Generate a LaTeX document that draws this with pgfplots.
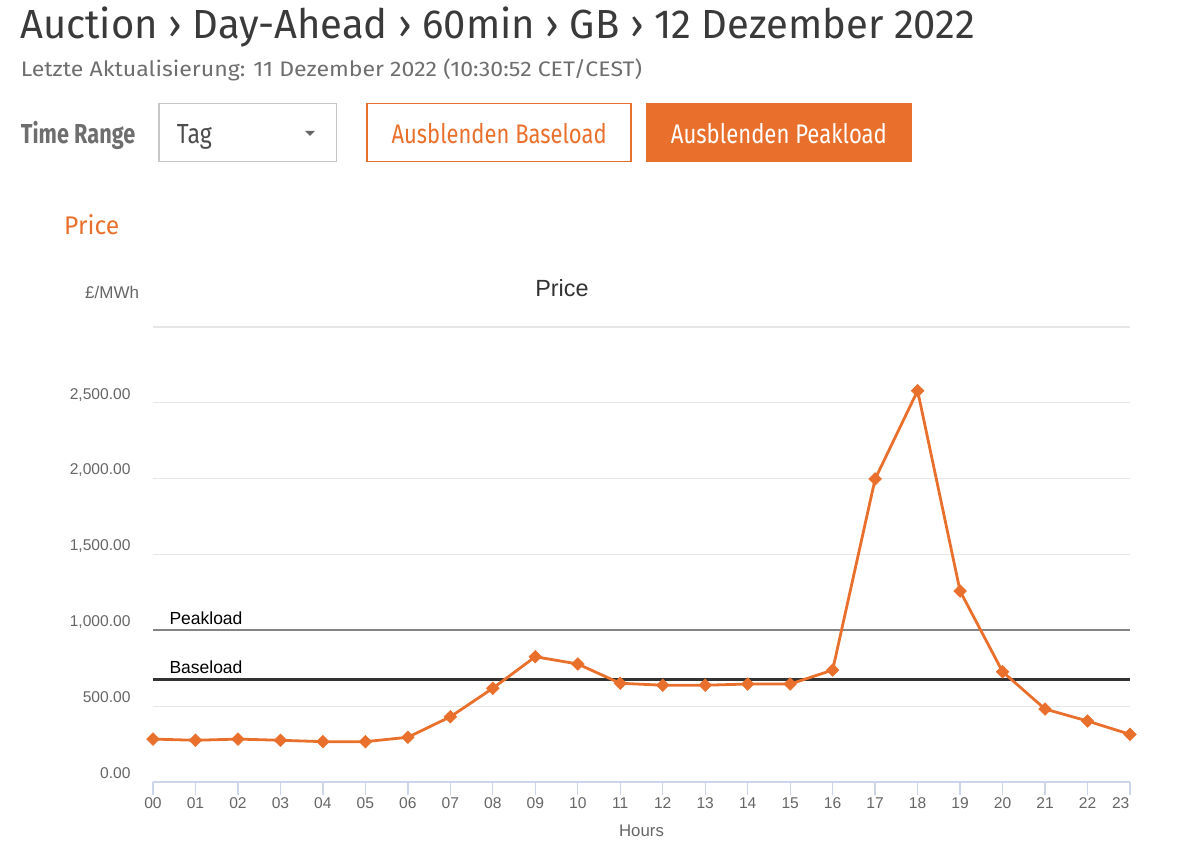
\documentclass[border=0pt]{standalone}
\usepackage{fontspec}
\setmainfont{Liberation Sans}
\newfontfamily\eex{Fira Sans}
\usepackage{graphicx}
\usepackage{pgfplots}
\usepackage{pgfplotstable}
\pgfplotsset{compat=1.18}
\definecolor{eexorange}{HTML}{E9702C}
\definecolor{hcgrid}{HTML}{E6E6E6}
\definecolor{hcaxis}{HTML}{CCD6EB}
\definecolor{hclabel}{HTML}{666666}
\definecolor{hctitle}{HTML}{333333}
\definecolor{peakgray}{HTML}{858585}
\definecolor{basedark}{HTML}{333333}
\definecolor{headdark}{HTML}{3A3A3A}
\definecolor{headgray}{HTML}{6E6E6E}
\newcommand{\fitbox}[3]{\resizebox{#1}{#2}{\raisebox{0pt}[\fontcharht\font`\H][0pt]{#3}}}

\pgfplotstableread{
h p
0 283
1 275
2 283
3 275
4 266
5 266
6 295
7 430
8 618
9 826
10 778
11 651
12 638
13 638
14 646
15 646
16 738
17 1998
18 2580
19 1259
20 727
21 481
22 402
23 314
}\pricedata

\begin{document}
\begin{tikzpicture}
\path (0pt,0pt) rectangle (1200pt,846pt);
% header
\node[anchor=base west, inner sep=0pt, text=headdark] at (20pt,807.7pt)
  {\eex\fitbox{955pt}{28pt}{Auction › Day-Ahead › 60min › GB › 12 Dezember 2022}};
\node[anchor=base west, inner sep=0pt, text=headgray] at (20.7pt,769.8pt)
  {\eex\fitbox{621pt}{14.5pt}{Letzte Aktualisierung: 11 Dezember 2022 (10:30:52 CET/CEST)}};
\node[anchor=base west, inner sep=0pt, text=headgray] at (20.7pt,702.5pt)
  {\eex\bfseries\fitbox{114.3pt}{19pt}{Time Range}};
\draw[draw=black!22, line width=1.3pt] (159pt,742.7pt) rectangle (336.7pt,684.3pt);
\node[anchor=base west, inner sep=0pt, text=black!70] at (176.7pt,702pt)
  {\eex\fitbox{35pt}{19pt}{Tag}};
\fill[black!60] (305pt,715pt) -- (315pt,715pt) -- (310pt,710pt) -- cycle;
\draw[draw=eexorange, line width=1.3pt] (367pt,742.7pt) rectangle (631pt,684.3pt);
\node[anchor=base west, inner sep=0pt, text=eexorange] at (391.4pt,702pt)
  {\eex\fitbox{215pt}{18.5pt}{Ausblenden Baseload}};
\fill[eexorange] (646pt,742.7pt) rectangle (911.5pt,684.3pt);
\node[anchor=base west, inner sep=0pt, text=white] at (670.7pt,702pt)
  {\eex\fitbox{216pt}{18.5pt}{Ausblenden Peakload}};
\node[anchor=base west, inner sep=0pt, text=eexorange] at (64pt,611.7pt)
  {\eex\fitbox{55pt}{17.6pt}{Price}};
% chart texts
\node[anchor=base, inner sep=0pt, text=hctitle, font=\fontsize{23.4}{26}\selectfont] at (562pt,549pt) {Price};
\node[anchor=base west, inner sep=0pt, text=hclabel, font=\fontsize{17}{19}\selectfont] at (85pt,547pt) {£/MWh};

\begin{axis}[
  at={(153pt,64pt)}, anchor=south west,
  scale only axis, width=977pt, height=455pt,
  xmin=0, xmax=23, ymin=0, ymax=3000,
  clip=false,
  axis x line*=bottom, axis y line*=left,
  x axis line style={draw=hcaxis, line width=1.3pt, -},
  y axis line style={draw=none},
  xtick={0,...,23},
  xticklabels={00,01,02,03,04,05,06,07,08,09,10,11,12,13,14,15,16,17,18,19,20,21,22,{23\hspace*{18.6pt}}},
  ytick={0,500,...,3000},
  yticklabels={0.00,500.00,{1,000.00},{1,500.00},{2,000.00},{2,500.00},{}},
  tick align=outside,
  major tick length=13pt,
  xtick style={draw=hcaxis, line width=1.3pt},
  ytick style={draw=none},
  ymajorgrids=true,
  major grid style={draw=hcgrid, line width=1.3pt},
  xticklabel style={anchor=base, inner sep=0pt, yshift=-13.5pt, text=hclabel, font=\fontsize{15.6}{17}\selectfont},
  yticklabel style={anchor=base east, inner sep=0pt, xshift=-9.3pt, yshift=3.8pt, text=hclabel, font=\fontsize{15.6}{17}\selectfont},
  xlabel={Hours},
  xlabel style={at={(axis description cs:0.5,0)}, anchor=base, inner sep=0pt, yshift=-55pt, text=hclabel, font=\fontsize{16.8}{18}\selectfont},
]
\addplot[draw=peakgray, line width=2pt] coordinates {(0,1000) (23,1000)};
\addplot[draw=basedark, line width=2.6pt] coordinates {(0,677) (23,677)};
\node[anchor=base west, inner sep=0pt, font=\fontsize{17.5}{19}\selectfont, text=black] at (axis cs:0,1000) [xshift=16.3pt, yshift=5.8pt] {Peakload};
\node[anchor=base west, inner sep=0pt, font=\fontsize{17.5}{19}\selectfont, text=black] at (axis cs:0,677) [xshift=16.3pt, yshift=6pt] {Baseload};
\addplot[draw=eexorange, line width=2.8pt, mark=square*, mark size=4.5pt,
  mark options={rotate=45, solid, fill=eexorange, draw=eexorange, line width=0.5pt}]
  table[x=h, y=p] {\pricedata};
\end{axis}
\end{tikzpicture}
\end{document}
